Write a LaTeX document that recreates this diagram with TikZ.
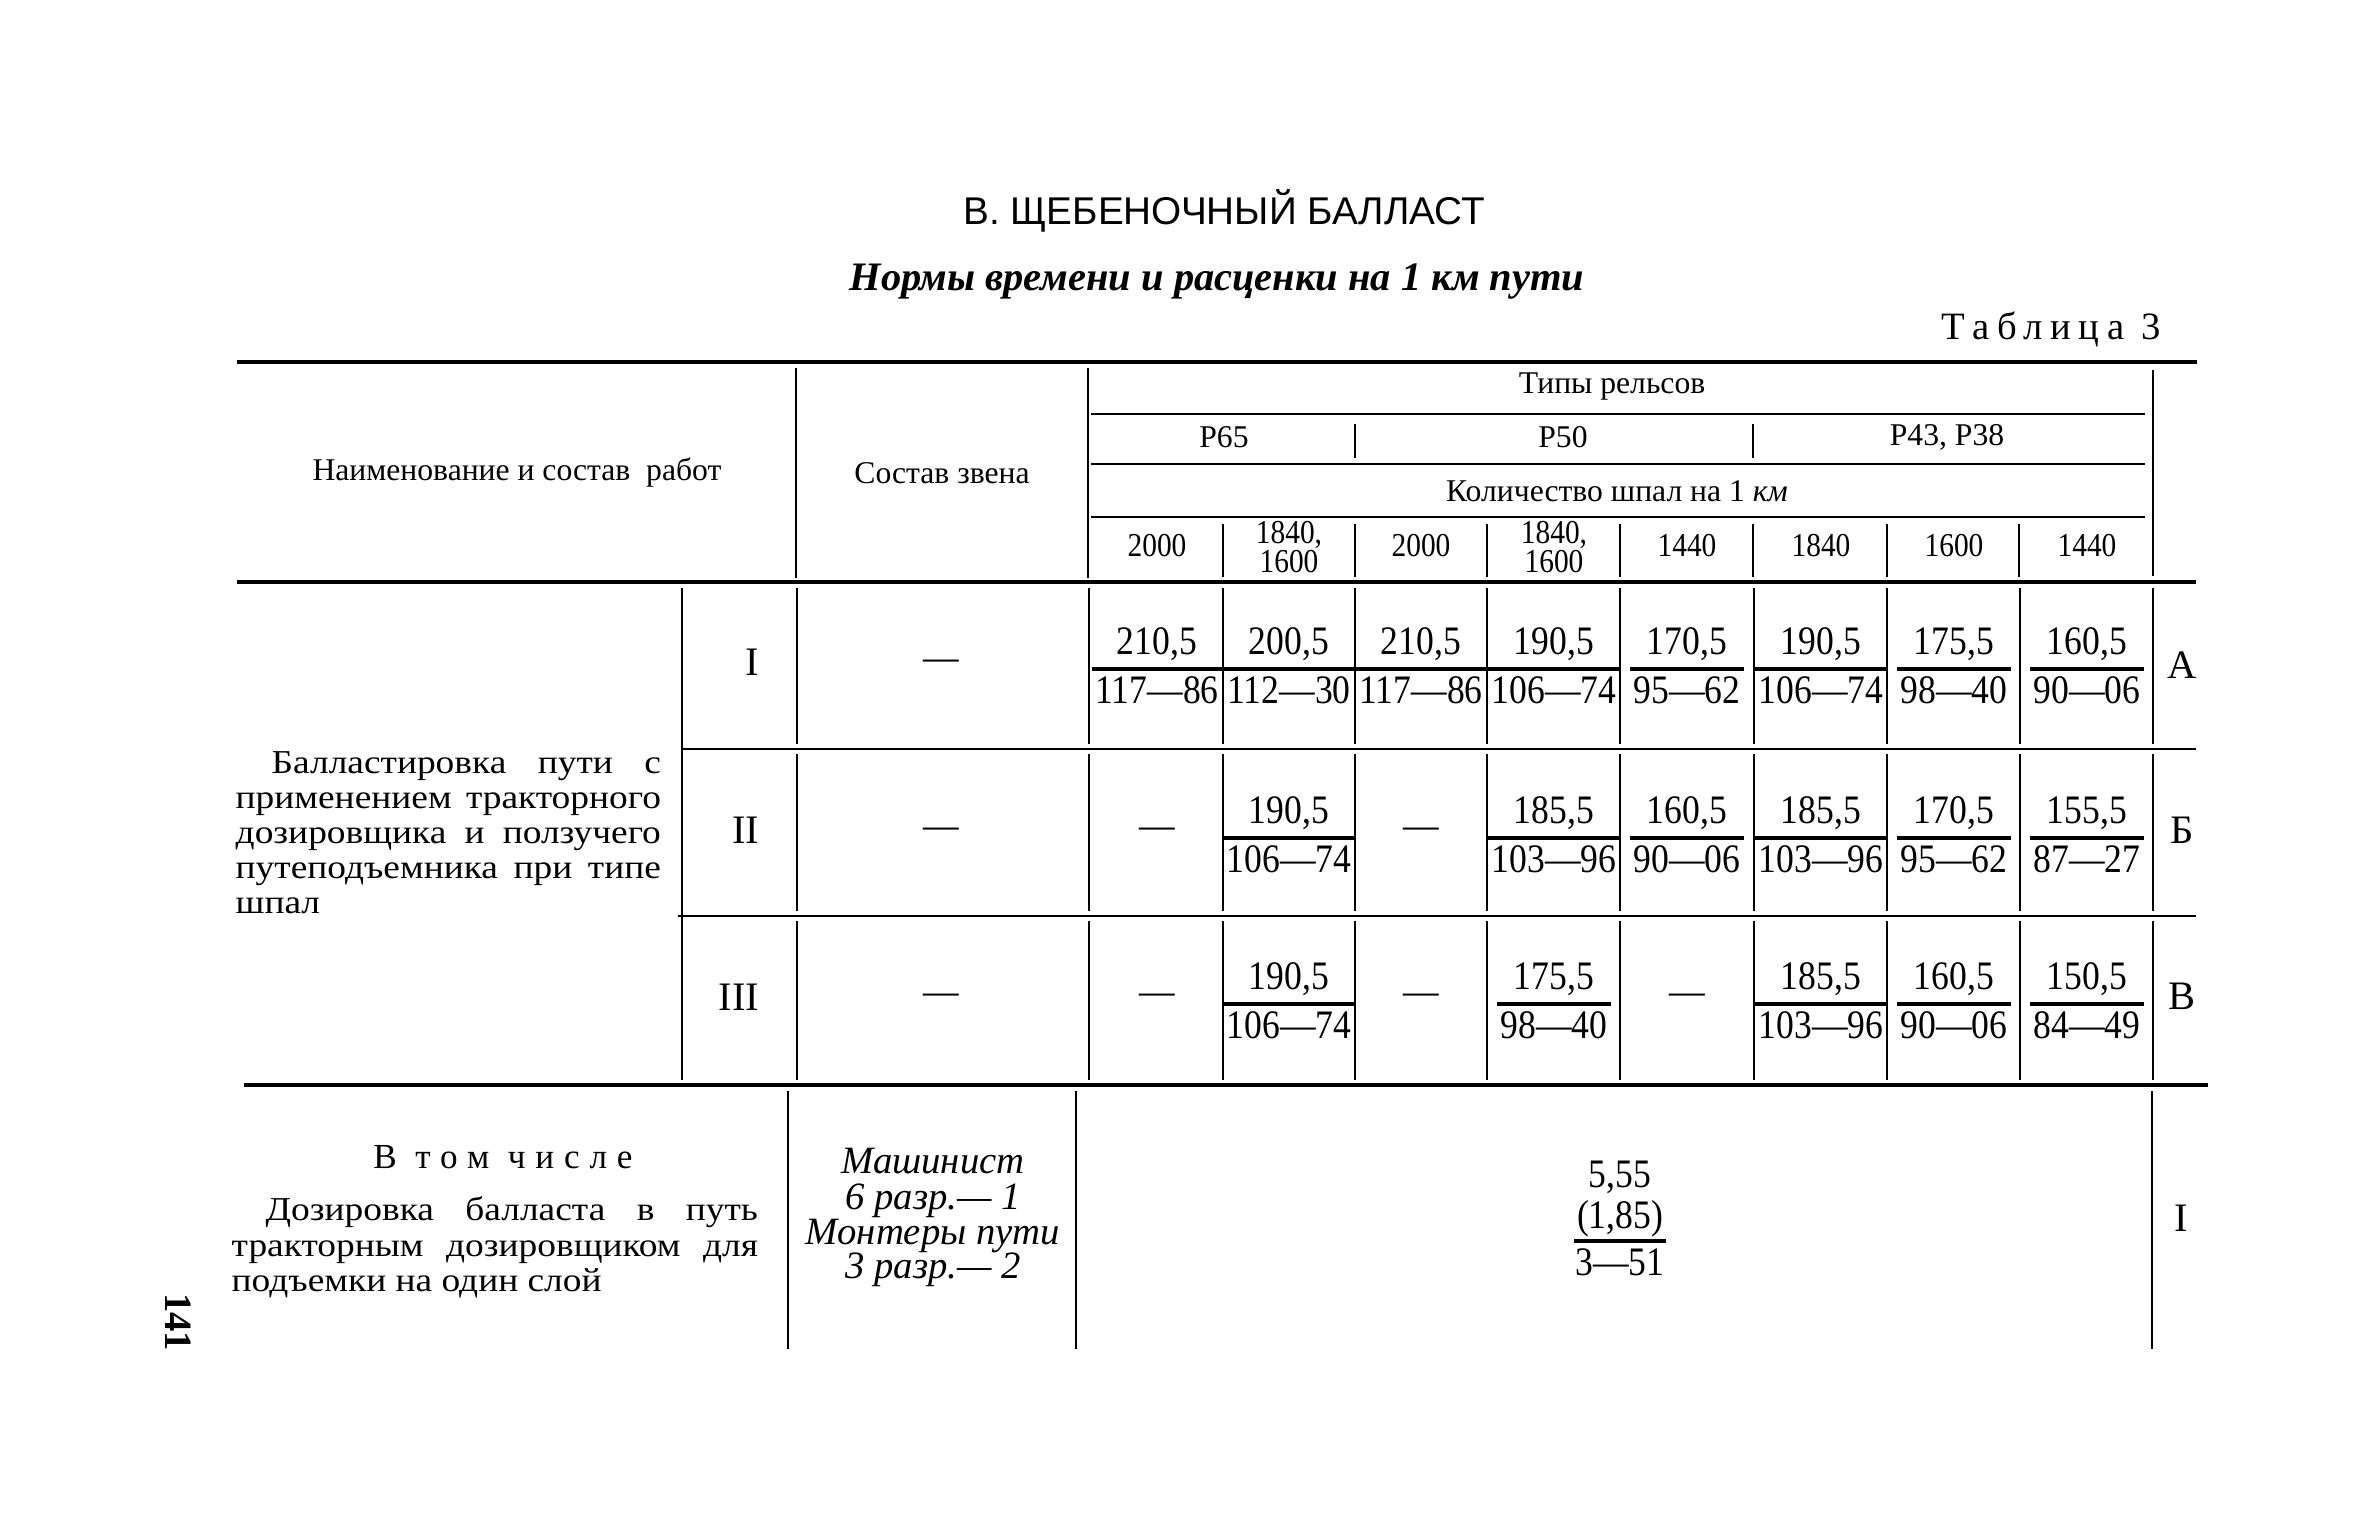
\documentclass[tikz,border=0pt]{standalone}
\usepackage{fontspec}
\usetikzlibrary{calc}
\setmainfont{Liberation Serif}
\newfontfamily\numfont[FakeStretch=0.88]{Liberation Serif}
\newfontfamily\widefont[FakeStretch=1.12]{Liberation Serif}
\newfontfamily\titlefont{Liberation Sans}
\newcommand\fr[5]{%
  \coordinate (#1) at (#2,#3);
  \node[dat] (#1n) at (#2,#3-25) {#4};
  \node[dat] (#1d) at (#2,#3+21) {#5};
  \draw[fracline] ($(#1d.west |- #1)+(-3,0)$) -- ($(#1d.east |- #1)+(3,0)$);}
\tikzset{
  mainrule/.style={line width=1.2pt},
  hrule/.style={line width=0.75pt},
  vrule/.style={line width=0.6pt},
  fracline/.style={line width=0.9pt},
  hd/.style={inner sep=0pt, font=\fontsize{9pt}{11pt}\selectfont},
  hnum/.style={inner sep=0pt, align=center, font=\numfont\fontsize{9.5pt}{8pt}\selectfont},
  dat/.style={inner sep=0pt, font=\numfont\fontsize{11.5pt}{13pt}\selectfont},
  big/.style={inner sep=0pt, font=\fontsize{11.5pt}{13pt}\selectfont},
  para/.style={inner sep=0pt, anchor=base west, font=\widefont\fontsize{9.5pt}{10pt}\selectfont},
  ital/.style={inner sep=0pt, anchor=base, font=\itshape\fontsize{11pt}{13pt}\selectfont},
}
\begin{document}
\begin{tikzpicture}[x=0.01cm,y=-0.01cm]
\useasboundingbox[fill=white] (0,0) rectangle (2363,1536);
% titles
\node[inner sep=0pt, font=\titlefont\fontsize{11pt}{13pt}\selectfont] (title) at (1224,211) {В. ЩЕБЕНОЧНЫЙ БАЛЛАСТ};
\node[inner sep=0pt, font=\bfseries\itshape\fontsize{11.5pt}{13pt}\selectfont] (sub) at (1217,282) {Нормы времени и расценки на 1 км пути};
\node[inner sep=0pt, anchor=east, font=\fontsize{11pt}{13pt}\selectfont\addfontfeature{LetterSpace=20}] (tabl) at (2162,329) {Таблица 3};
% main rules
\draw[mainrule] (237,362) -- (2197,362);
\draw[mainrule] (237,582) -- (2196,582);
\draw[hrule] (681,749) -- (2196,749);
\draw[hrule] (678,916) -- (2196,916);
\draw[mainrule] (244,1085) -- (2208,1085);
% header lines
\draw[hrule] (1091,414) -- (2145,414);
\draw[hrule] (1091,464) -- (2145,464);
\draw[hrule] (1091,517) -- (2145,517);
% header verticals
\draw[vrule] (796,368) -- (796,578);
\draw[vrule] (1088,368) -- (1088,578);
\draw[vrule] (2153,370) -- (2153,576);
\foreach \x in {1355,1753} \draw[vrule] (\x,424) -- (\x,458);
\foreach \x in {1223,1355,1487,1620,1753,1887,2019} \draw[vrule] (\x,524) -- (\x,577);
% body verticals
\draw[vrule] (682,588) -- (682,1080);
\foreach \x in {797,1089,1223,1355,1487,1620,1754,1887,2020,2153} {
  \draw[vrule] (\x,588) -- (\x,744);
  \draw[vrule] (\x,754) -- (\x,911);
  \draw[vrule] (\x,921) -- (\x,1080);
}
\foreach \x in {788,1076,2152} \draw[vrule] (\x,1091) -- (\x,1349);
% header text
\node[hd] (h1) at (517,473) {Наименование и состав\ \ работ};
\node[hd] (h2) at (942,473) {Состав звена};
\node[hd] (h3) at (1612,386) {Типы рельсов};
\node[hd] (p65) at (1224,437) {Р65};
\node[hd] (p50) at (1563,437) {Р50};
\node[hd] (p43) at (1947,437) {Р43, Р38};
\node[hd] (kol) at (1617,491) {Количество шпал на 1 \textit{км}};
\node[hnum] (s1) at (1157,546) {2000};
\node[hnum] (s2) at (1289,547) {1840,\\1600};
\node[hnum] (s3) at (1421,546) {2000};
\node[hnum] (s4) at (1554,547) {1840,\\1600};
\node[hnum] (s5) at (1687,546) {1440};
\node[hnum] (s6) at (1821,546) {1840};
\node[hnum] (s7) at (1954,546) {1600};
\node[hnum] (s8) at (2087,546) {1440};
% left description
\node[para] (d1) at (271,773) {\makebox[3.89cm][s]{Балластировка пути с}};
\node[para] (d2) at (235,808) {\makebox[4.25cm][s]{применением тракторного}};
\node[para] (d3) at (235,843) {\makebox[4.25cm][s]{дозировщика и ползучего}};
\node[para] (d4) at (235,878) {\makebox[4.25cm][s]{путеподъемника при типе}};
\node[para] (d5) at (235,913) {шпал};
% roman numerals
\node[big, anchor=east] (r1) at (760,662) {I};
\node[big, anchor=east] (r2) at (760,830) {II};
\node[big, anchor=east] (r3) at (760,997) {III};
\node[dat] (z1) at (941,665) {—};
\node[dat] (z2) at (941,833) {—};
\node[dat] (z3) at (941,999) {—};
% row I
\fr{a1}{1157}{669}{210,5}{117—86}
\fr{a2}{1289}{669}{200,5}{112—30}
\fr{a3}{1421}{669}{210,5}{117—86}
\fr{a4}{1554}{669}{190,5}{106—74}
\fr{a5}{1687}{669}{170,5}{95—62}
\fr{a6}{1821}{669}{190,5}{106—74}
\fr{a7}{1954}{669}{175,5}{98—40}
\fr{a8}{2087}{669}{160,5}{90—06}
\node[big] (la) at (2182,665) {А};
% row II
\node[dat] (b1) at (1157,833) {—};
\fr{b2}{1289}{838}{190,5}{106—74}
\node[dat] (b3) at (1421,833) {—};
\fr{b4}{1554}{838}{185,5}{103—96}
\fr{b5}{1687}{838}{160,5}{90—06}
\fr{b6}{1821}{838}{185,5}{103—96}
\fr{b7}{1954}{838}{170,5}{95—62}
\fr{b8}{2087}{838}{155,5}{87—27}
\node[big] (lb) at (2182,830) {Б};
% row III
\node[dat] (c1) at (1157,999) {—};
\fr{c2}{1289}{1004}{190,5}{106—74}
\node[dat] (c3) at (1421,999) {—};
\fr{c4}{1554}{1004}{175,5}{98—40}
\node[dat] (c5) at (1687,999) {—};
\fr{c6}{1821}{1004}{185,5}{103—96}
\fr{c7}{1954}{1004}{160,5}{90—06}
\fr{c8}{2087}{1004}{150,5}{84—49}
\node[big] (lc) at (2182,996) {В};
% lower section
\node[inner sep=0pt, anchor=base, font=\fontsize{10pt}{12pt}\selectfont\addfontfeature{LetterSpace=28}] (vtom) at (503,1168) {В том числе};
\node[para] (e1) at (265,1220) {\makebox[4.92cm][s]{Дозировка балласта в путь}};
\node[para] (e2) at (231,1256) {\makebox[5.26cm][s]{тракторным дозировщиком для}};
\node[para] (e3) at (231,1291) {подъемки на один слой};
\node[ital] (m1) at (933,1173) {Машинист};
\node[ital] (m2) at (933,1209) {6 разр.— 1};
\node[ital] (m3) at (933,1244) {Монтеры пути};
\node[ital] (m4) at (933,1278) {3 разр.— 2};
\node[dat] (v1) at (1620,1177) {5,55};
\node[dat] (v2) at (1620,1219) {(1,85)};
\coordinate (vl) at (1620,1241);
\node[dat] (v3) at (1620,1262) {3—51};
\draw[fracline] ($(v2.west |- vl)+(-2,0)$) -- ($(v2.east |- vl)+(2,0)$);
\node[big] (li) at (2181,1218) {I};
% page number
\node[inner sep=0pt, rotate=-90, font=\bfseries\fontsize{11pt}{13pt}\selectfont] (pg) at (178,1322) {141};
\end{tikzpicture}
\end{document}
